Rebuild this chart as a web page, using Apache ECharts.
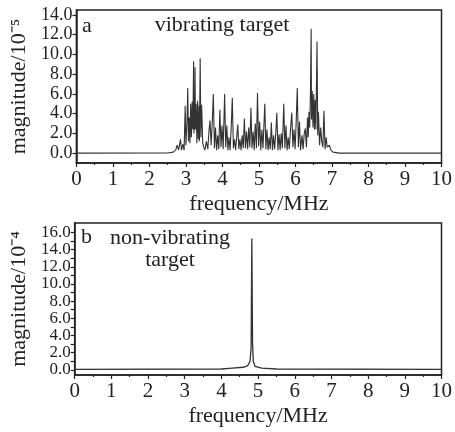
<!DOCTYPE html>
<html>
<head>
<meta charset="utf-8">
<script src="https://cdn.jsdelivr.net/npm/echarts@6/dist/echarts.min.js"></script>
<style>html,body{margin:0;padding:0;background:#fff}#c{width:455px;height:432px}</style>
</head>
<body>
<div id="c"></div>
<script>
// Panel a: vibrating target (magnitude in 10^-5)
var freqA = [0, 2.50, 2.65, 2.72, 2.76, 2.80, 2.85, 2.88, 2.92, 2.95, 2.98, 3.00, 3.03, 3.05, 3.07, 3.09, 3.11, 3.13, 3.15, 3.17, 3.19, 3.21, 3.22, 3.23, 3.24, 3.25, 3.26, 3.28, 3.30, 3.32, 3.34, 3.36, 3.37, 3.39, 3.41, 3.43, 3.46, 3.49, 3.52, 3.56, 3.60, 3.63, 3.66, 3.69, 3.72, 3.75, 3.78, 3.81, 3.84, 3.87, 3.90, 3.93, 3.96, 3.99, 4.02, 4.06, 4.09, 4.12, 4.15, 4.18, 4.21, 4.24, 4.27, 4.30, 4.33, 4.36, 4.39, 4.42, 4.45, 4.48, 4.51, 4.54, 4.57, 4.60, 4.63, 4.66, 4.69, 4.72, 4.75, 4.78, 4.81, 4.84, 4.87, 4.90, 4.93, 4.96, 4.99, 5.02, 5.05, 5.08, 5.11, 5.16, 5.19, 5.22, 5.25, 5.28, 5.31, 5.34, 5.37, 5.40, 5.43, 5.46, 5.49, 5.52, 5.55, 5.58, 5.61, 5.64, 5.68, 5.71, 5.74, 5.77, 5.80, 5.83, 5.86, 5.90, 5.93, 5.96, 5.99, 6.02, 6.05, 6.08, 6.11, 6.14, 6.18, 6.21, 6.24, 6.27, 6.30, 6.33, 6.35, 6.37, 6.39, 6.41, 6.43, 6.44, 6.46, 6.48, 6.50, 6.52, 6.54, 6.56, 6.59, 6.61, 6.63, 6.66, 6.69, 6.72, 6.75, 6.78, 6.81, 6.84, 6.87, 6.90, 6.93, 6.97, 7.00, 7.03, 7.08, 7.20, 10];
var magA = [0, 0.02, 0.1, 0.3, 0.8, 0.3, 1.4, 0.3, 0.9, 0.3, 4.8, 0.8, 3.2, 6.6, 1.2, 3.6, 1.0, 5.0, 1.6, 5.2, 2.4, 9.3, 2.0, 5.5, 2.4, 8.7, 2.4, 5.0, 1.0, 5.3, 1.4, 4.8, 1.2, 9.6, 1.6, 4.9, 1.0, 0.6, 0.3, 1.2, 0.4, 2.2, 3.3, 0.8, 3.0, 6.0, 0.5, 2.6, 0.3, 1.8, 0.4, 4.4, 0.6, 2.8, 0.4, 6.0, 0.6, 2.8, 0.3, 1.6, 0.3, 2.6, 5.6, 0.5, 1.4, 0.3, 1.6, 2.9, 0.4, 1.4, 0.3, 1.8, 0.5, 3.5, 0.5, 2.2, 0.4, 2.6, 0.6, 4.6, 0.5, 2.2, 0.3, 3.0, 0.5, 6.1, 0.7, 3.2, 0.3, 2.4, 0.5, 5.0, 0.4, 2.4, 0.3, 1.6, 0.4, 3.1, 0.3, 1.8, 0.4, 2.0, 4.1, 0.3, 1.9, 0.3, 2.0, 0.5, 5.0, 0.5, 2.8, 0.3, 1.6, 0.4, 2.2, 4.1, 0.6, 2.4, 0.4, 3.2, 6.6, 0.6, 3.2, 0.3, 1.8, 0.4, 2.0, 2.5, 0.6, 3.6, 1.6, 4.2, 2.6, 6.0, 12.6, 3.4, 6.3, 2.6, 6.0, 2.4, 5.4, 2.4, 11.3, 1.8, 4.2, 0.8, 2.6, 1.2, 0.6, 4.3, 0.4, 1.6, 0.6, 0.4, 0.8, 0.3, 0.2, 0.1, 0.03, 0, 0];

// Panel b: non-vibrating target (magnitude in 10^-4)
var freqB = [0, 4.0, 4.3, 4.6, 4.72, 4.78, 4.81, 4.83, 4.84, 4.85, 4.87, 4.92, 5.1, 5.5, 10];
var magB = [0.05, 0.1, 0.2, 0.3, 0.5, 1.0, 2.5, 15.3, 8.5, 3.0, 1.0, 0.4, 0.2, 0.1, 0.05];

var xTicks = [0, 1, 2, 3, 4, 5, 6, 7, 8, 9, 10];
var yTicksA = [0, 2, 4, 6, 8, 10, 12, 14];
var yTicksB = [0, 2, 4, 6, 8, 10, 12, 14, 16];
var yMinorB = [0, 1, 2, 3, 4, 5, 6, 7, 8, 9, 10, 11, 12, 13, 14, 15, 16];

var FONT = 'Liberation Serif';
var INK = '#222';

function pairs(xs, ys) { return xs.map(function (x, i) { return [x, ys[i]]; }); }

function xAx(gi) {
  return {
    type: 'value', gridIndex: gi, min: 0, max: 10, interval: 1,
    name: 'frequency/MHz', nameLocation: 'middle', nameGap: 30,
    nameTextStyle: { fontFamily: FONT, fontSize: 22, color: INK },
    axisLine: { onZero: false, lineStyle: { color: INK, width: 1.5 } },
    axisTick: { length: 4, lineStyle: { color: INK, width: 1.2 } },
    minorTick: { show: true, splitNumber: 2, length: 2, lineStyle: { color: INK, width: 1.2 } },
    axisLabel: { fontFamily: FONT, fontSize: 21, color: INK, margin: 6 },
    splitLine: { show: false }
  };
}

function yAx(gi, min, max, labels, ticks, name, fs) {
  return {
    type: 'value', gridIndex: gi, min: min, max: max,
    name: name, nameLocation: 'middle', nameGap: 42,
    nameTextStyle: { fontFamily: FONT, fontSize: 22, color: INK },
    axisLine: { onZero: false, lineStyle: { color: INK, width: 1.5 } },
    axisTick: { customValues: ticks, length: 4, lineStyle: { color: INK, width: 1.2 } },
    axisLabel: { customValues: labels, hideOverlap: false, showMinLabel: true, showMaxLabel: true,
      fontFamily: FONT, fontSize: fs, lineHeight: fs, color: INK, margin: 4,
      formatter: function (v) { return v.toFixed(1); } },
    splitLine: { show: false }
  };
}

var chart = echarts.init(document.getElementById('c'), null, { renderer: 'canvas' });
chart.setOption({
  animation: false,
  backgroundColor: '#fff',
  grid: [
    { left: 74, right: 12, top: 10, height: 153, show: true, borderColor: INK, borderWidth: 1.5, backgroundColor: 'transparent' },
    { left: 74, right: 12, top: 223, height: 152, show: true, borderColor: INK, borderWidth: 1.5, backgroundColor: 'transparent' }
  ],
  xAxis: [xAx(0), xAx(1)],
  yAxis: [
    yAx(0, -1, 14.5, yTicksA, yTicksA, 'magnitude/10\u207B\u2075', 18),
    yAx(1, -0.6, 17.1, yTicksB, yMinorB, 'magnitude/10\u207B\u2074', 17)
  ],
  series: [
    { type: 'line', xAxisIndex: 0, yAxisIndex: 0, data: pairs(freqA, magA), showSymbol: false,
      lineStyle: { color: '#333', width: 1.1 }, silent: true },
    { type: 'line', xAxisIndex: 1, yAxisIndex: 1, data: pairs(freqB, magB), showSymbol: false,
      lineStyle: { color: '#333', width: 1.3 }, silent: true }
  ],
  graphic: [
    { type: 'text', left: 82, top: 15, style: { text: 'a', font: '22px "Liberation Serif"', fill: INK } },
    { type: 'text', x: 222, y: 25, style: { text: 'vibrating target', font: '22px "Liberation Serif"', fill: INK, align: 'center', verticalAlign: 'middle' } },
    { type: 'text', left: 81, top: 226, style: { text: 'b', font: '22px "Liberation Serif"', fill: INK } },
    { type: 'text', x: 170, y: 238, style: { text: 'non-vibrating', font: '22px "Liberation Serif"', fill: INK, align: 'center', verticalAlign: 'middle' } },
    { type: 'text', x: 170, y: 260, style: { text: 'target', font: '22px "Liberation Serif"', fill: INK, align: 'center', verticalAlign: 'middle' } }
  ]
});
</script>
</body>
</html>
